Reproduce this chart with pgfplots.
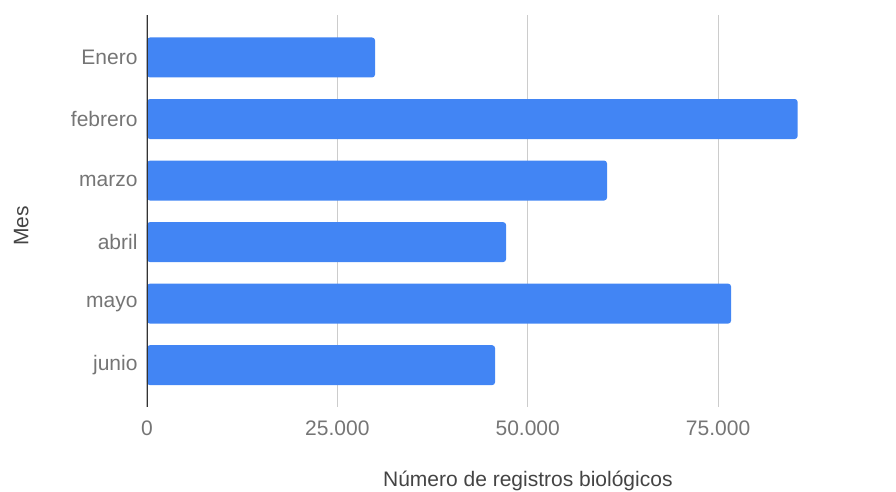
\documentclass[border=0pt]{standalone}
\usepackage{pgfplots}
\pgfplotsset{compat=1.18}
\usepackage{fontspec}
\setmainfont{Liberation Sans}
\definecolor{barblue}{HTML}{4285F4}
\definecolor{ticktxt}{HTML}{757575}
\definecolor{titletxt}{HTML}{444444}
\definecolor{gridc}{HTML}{CCCCCC}
\definecolor{axisc}{HTML}{333333}
\begin{document}
\begin{tikzpicture}
\useasboundingbox (-147pt,-84pt) rectangle (749pt,407pt);
\begin{axis}[
  at={(0pt,0pt)}, anchor=south west,
  scale only axis,
  width=731pt, height=392pt,
  xbar, bar width=40pt,
  xmin=0, xmax=96000,
  ymin=-0.69, ymax=5.68,
  y dir=reverse,
  ytick={0,1,2,3,4,5},
  yticklabels={Enero,febrero,marzo,abril,mayo,junio},
  xtick={0,25000,50000,75000},
  scaled x ticks=false,
  /pgf/number format/1000 sep={.},
  /pgf/number format/assume math mode=true,
  major tick length=0pt,
  axis line style={draw=none},
  xmajorgrids, grid style={gridc, line width=1.1pt},
  font=\fontsize{21}{25}\selectfont,
  tick label style={text=ticktxt},
  xticklabel style={yshift=-10pt},
  yticklabel style={xshift=-6pt},
  xlabel={Número de registros biológicos},
  ylabel={Mes},
  label style={text=titletxt},
  xlabel style={at={(axis description cs:0.521,-0.189)}, anchor=center},
  ylabel style={at={(axis description cs:-0.172,0.462)}, anchor=center},
]
\addplot[draw=none, fill=barblue, rounded corners=3pt] coordinates {
  (29950,0) (85450,1) (60420,2) (47160,3) (76710,4) (45710,5)
};
\draw[axisc, line width=1.3pt] (axis cs:0,-0.69) -- (axis cs:0,5.68);
\end{axis}
\end{tikzpicture}
\end{document}
